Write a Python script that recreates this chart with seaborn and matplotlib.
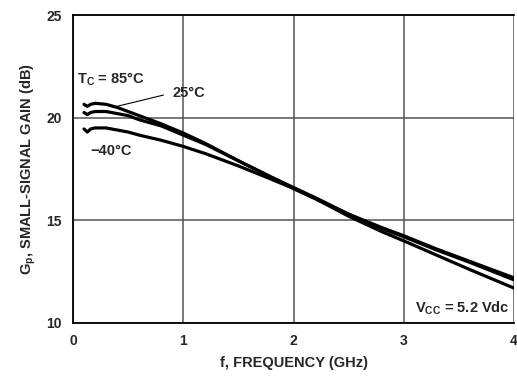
import matplotlib
matplotlib.use("Agg")
import matplotlib.pyplot as plt
import seaborn as sns
import pandas as pd

freq = [0.1, 0.13, 0.16, 0.2, 0.3, 0.4, 0.5, 0.6, 0.8, 1.0, 1.2, 1.5, 1.8, 2.0, 2.2, 2.5, 2.8, 3.0, 3.3, 3.6, 4.0]
gain_85 = [20.65, 20.55, 20.65, 20.7, 20.65, 20.5, 20.3, 20.1, 19.7, 19.25, 18.75, 17.9, 17.1, 16.6, 16.1, 15.3, 14.65, 14.25, 13.6, 13.0, 12.2]
gain_25 = [20.25, 20.15, 20.25, 20.3, 20.3, 20.2, 20.1, 19.9, 19.6, 19.15, 18.7, 17.9, 17.1, 16.55, 16.05, 15.3, 14.6, 14.2, 13.55, 12.95, 12.1]
gain_m40 = [19.45, 19.3, 19.45, 19.5, 19.5, 19.4, 19.3, 19.15, 18.9, 18.6, 18.25, 17.65, 17.0, 16.55, 16.05, 15.2, 14.45, 14.0, 13.3, 12.6, 11.7]
x_ticks = [0, 1, 2, 3, 4]
y_ticks = [10, 15, 20, 25]

df = pd.DataFrame({
    "f": freq * 3,
    "G": gain_85 + gain_25 + gain_m40,
    "T": ["85"] * len(freq) + ["25"] * len(freq) + ["-40"] * len(freq),
})

sns.set_style("white")
plt.rcParams['font.family'] = ['Liberation Sans Narrow', 'Liberation Sans', 'DejaVu Sans']
plt.rcParams['font.weight'] = 'bold'

fig = plt.figure(figsize=(5.17, 3.89), dpi=100)
ax = fig.add_axes([73/517, 1 - 323/389, (514 - 73)/517, (323 - 15)/389])

sns.lineplot(data=df, x="f", y="G", hue="T", palette=["black"] * 3,
             linewidth=2.3, legend=False, ax=ax, sort=False, estimator=None)

ax.set_xlim(0, 4)
ax.set_ylim(10, 25)
ax.set_xticks(x_ticks)
ax.set_yticks(y_ticks)
ax.grid(True, color="#555555", linewidth=1.1)
for name, s in ax.spines.items():
    s.set_color("black")
    s.set_linewidth(1.3)
ax.spines["right"].set_visible(False)
ax.tick_params(axis="both", length=0, labelsize=10, pad=8)
for lab in ax.get_xticklabels() + ax.get_yticklabels():
    lab.set_fontweight("bold")

ax.set_xlabel("f, FREQUENCY (GHz)", fontsize=10.5, fontweight="bold", labelpad=6)
ax.set_ylabel("G$_\\mathregular{p}$, SMALL-SIGNAL GAIN (dB)", fontsize=10.5, fontweight="bold", labelpad=6)

ax.text(0.04, 21.9, "T$_\\mathregular{C}$ = 85°C", fontsize=10.5, fontweight="bold", va="center")
ax.text(0.9, 21.2, "25°C", fontsize=10.5, fontweight="bold", va="center")
ax.plot([0.36, 0.82], [20.5, 21.1], color="black", linewidth=0.8)
ax.text(0.16, 18.4, "\u221240°C", fontsize=10.5, fontweight="bold", va="center")
ax.text(3.1, 10.7, "V$_\\mathregular{CC}$ = 5.2 Vdc", fontsize=10.5, fontweight="bold", va="center")

fig.savefig("out.png", dpi=100)
